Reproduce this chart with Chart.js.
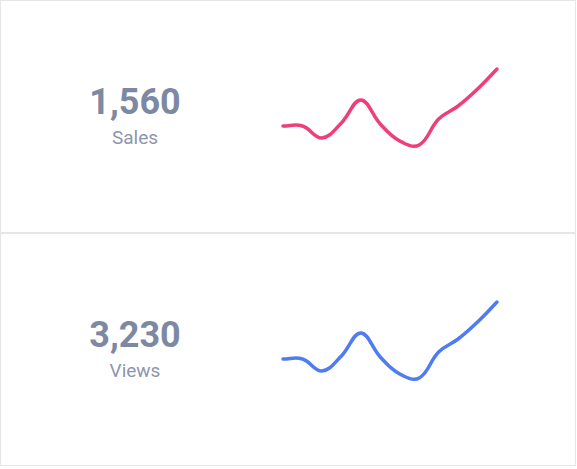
<!DOCTYPE html><html><head><meta charset="utf-8">
<script src="https://cdn.jsdelivr.net/npm/chart.js@4"></script>
<style>
html,body{margin:0;padding:0;background:#fff;font-family:Roboto,sans-serif;}
.card{position:absolute;left:0;width:576px;height:233px;border:1px solid #e6e6e6;box-sizing:border-box;}
.num{position:absolute;width:200px;left:34px;text-align:center;font-weight:bold;font-size:36px;color:#7d88a3;}
.lbl{position:absolute;width:200px;left:34px;text-align:center;font-size:19px;color:#8c96ad;}
.cv{position:absolute;left:272px;width:234px;height:110px;}
</style></head><body>
<div class="card" style="top:0"><div class="num" style="top:80px">1,560</div><div class="lbl" style="top:125px">Sales</div><div class="cv" style="top:50px"><canvas id="c1"></canvas></div></div>
<div class="card" style="top:233px"><div class="num" style="top:80px">3,230</div><div class="lbl" style="top:125px">Views</div><div class="cv" style="top:50px"><canvas id="c2"></canvas></div></div>
<script>
const labels=[1,2,3,4,5,6,7,8,9,10,11,12];
const salesValues=[25,25,13,28,51,27,10,6,32,45,62,82];
const viewsValues=[25,25,13,28,51,27,10,6,32,45,62,82];
function mk(id,data,color){
 new Chart(document.getElementById(id),{type:'line',
 data:{labels:labels,datasets:[{data:data,borderColor:color,borderWidth:3.5,pointRadius:0,tension:0.4,fill:false,borderCapStyle:'round',clip:false}]},
 options:{responsive:true,maintainAspectRatio:false,animation:false,layout:{padding:{left:10,right:10,top:10,bottom:10}},
 plugins:{legend:{display:false},tooltip:{enabled:false}},
 scales:{x:{display:false},y:{display:false,min:0,max:90}}}});
}
mk('c1',salesValues,'#ee3f78');
mk('c2',viewsValues,'#4f7cf0');
</script></body></html>
